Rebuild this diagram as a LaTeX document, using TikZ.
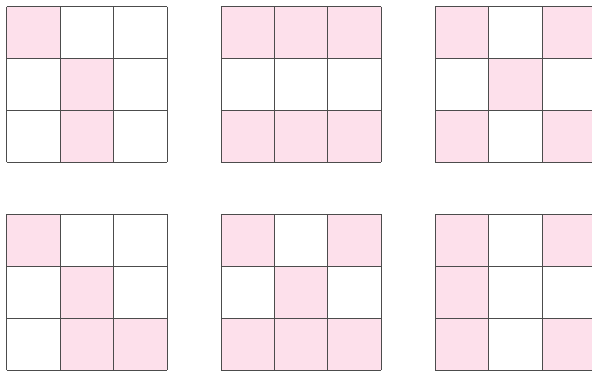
\documentclass[tikz,border=0pt]{standalone}
\definecolor{cellpink}{RGB}{253,224,235}
\tikzset{
  gridline/.style={gray!60!black,line width=0.8pt},
  cellfill/.style={fill=cellpink}
}
\begin{document}
\begin{tikzpicture}[x=1pt,y=-1pt]
            \useasboundingbox(0,0)rectangle(592,372);
            % column/row of the board, then its pink cells (col/row)
            \foreach \gx/\gy/\cells in {0/0/{0/0,1/1,1/2},
                                         1/0/{0/0,1/0,2/0,0/2,1/2,2/2},
                                         2/0/{0/0,2/0,1/1,0/2,2/2},
                                         0/1/{0/0,1/1,1/2,2/2},
                                         1/1/{0/0,2/0,1/1,0/2,1/2,2/2},
                                         2/1/{0/0,2/0,0/1,0/2,2/2}}{
              \begin{scope}[shift={(6.7+214.2*\gx,6.7+207.6*\gy)},x=53.4pt,y=-51.9pt]
                \foreach \c/\r in \cells
                  \fill[cellfill](\c,\r)rectangle++(1,1);
                \foreach \i in {0,...,3}{
                  \draw[gridline](\i,0)--(\i,3);
                  \draw[gridline](0,\i)--(3,\i);
                }
              \end{scope}
            }
        \end{tikzpicture}
\end{document}
